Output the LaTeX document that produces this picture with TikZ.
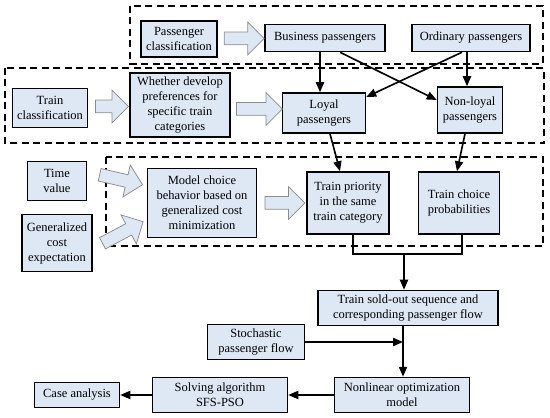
\documentclass[tikz,border=0pt]{standalone}
\usepackage{fontspec}
\setmainfont{Liberation Serif}
\usetikzlibrary{shapes.arrows, arrows.meta, calc}
\definecolor{boxfill}{RGB}{222,232,245}
\definecolor{fatedge}{RGB}{140,140,140}

\begin{document}
\begin{tikzpicture}[
    x=0.8pt, y=-0.8pt,
    box/.style={rectangle, draw, line width=1.2pt, fill=boxfill, align=center, inner sep=2pt, font=\rmfamily\fontsize{10}{12}\selectfont},
    arrow/.style={-{Triangle[length=8pt, width=6.5pt]}, line width=1.3pt},
    link/.style={line width=1.3pt},
    fat/.style={single arrow, draw=fatedge, fill=boxfill, line width=0.6pt, inner xsep=0pt, inner ysep=4.8pt, minimum height=#1, single arrow head extend=8pt, single arrow head indent=0pt},
    fat/.default=32pt,
    frame/.style={dash pattern=on 5.6pt off 3.6pt, line width=1.2pt}
  ]
    \useasboundingbox (0,0) rectangle (550,418);

    % dashed groups
    \draw[frame] (130,6) rectangle (543,64);
    \draw[frame] (5,68) rectangle (544,143);
    \draw[frame] (106,157) rectangle (543,246);

    % passenger side
    \node[box, minimum width=60.8pt, minimum height=28.8pt] (pcls) at (179,39) {Passenger\\classification};
    \node[box, minimum width=96pt, minimum height=21.6pt] (busi) at (325,38) {Business passengers};
    \node[box, minimum width=94.4pt, minimum height=21.6pt] (ordi) at (471,38) {Ordinary passengers};

    % train side
    \node[box, minimum width=60pt, minimum height=31.2pt] (tcls) at (50,108) {Train\\classification};
    \node[box, minimum width=80pt, minimum height=51.2pt] (pref) at (180,105) {Whether develop\\preferences for\\specific train\\categories};
    \node[box, minimum width=66.4pt, minimum height=32pt] (loyal) at (324,113) {Loyal\\passengers};
    \node[box, minimum width=52pt, minimum height=36.8pt] (nonl) at (470,110) {Non-loyal\\passengers};

    % choice behaviour
    \node[box, minimum width=47.2pt, minimum height=31.2pt] (tval) at (57,181) {Time\\value};
    \node[box, minimum width=56pt, minimum height=45.6pt] (gcost) at (57,243) {Generalized\\cost\\expectation};
    \node[box, minimum width=87.2pt, minimum height=55.2pt] (model) at (202,203) {Model choice\\behavior based on\\generalized cost\\minimization};
    \node[box, minimum width=65.6pt, minimum height=49.6pt] (prio) at (348,203) {Train priority\\in the same\\train category};
    \node[box, minimum width=64.8pt, minimum height=49.6pt] (prob) at (459,203) {Train choice\\probabilities};

    % optimisation
    \node[box, minimum width=144pt, minimum height=28pt] (sold) at (408,308) {Train sold-out sequence and\\corresponding passenger flow};
    \node[box, minimum width=77.6pt, minimum height=28pt] (stoch) at (256,342) {Stochastic\\passenger flow};
    \node[box, minimum width=108pt, minimum height=28pt] (nlopt) at (402,395) {Nonlinear optimization\\model};
    \node[box, minimum width=108pt, minimum height=28pt] (solve) at (220,395) {Solving algorithm\\SFS-PSO};
    \node[box, minimum width=68pt, minimum height=20pt] (case) at (77,395) {Case analysis};

    % block arrows
    \node[fat] (fa1) at ($(pcls.east)!0.5!(busi.west)$) {};
    \node[fat=26.4pt] (fa2) at ($(tcls.east)!0.5!(pref.west)$) {};
    \node[fat=36.8pt] (fa3) at ($(pref.east)!0.5!(loyal.west)$) {};
    \node[fat=35.2pt, rotate=-13] (fa4) at (118,179) {};
    \node[fat=36.8pt, rotate=28] (fa5) at (120,234) {};
    \node[fat] (fa6) at ($(model.east)!0.5!(prio.west)$) {};

    % links
    \draw[arrow] ([xshift=-4pt]busi.south) -- ([xshift=-4pt]busi.south |- loyal.north);
    \draw[arrow] ([xshift=12pt]busi.south) -- ([yshift=8pt]nonl.west);
    \draw[arrow] ([xshift=-7.2pt]ordi.south) -- ([yshift=12.8pt]loyal.east);
    \draw[arrow] ([xshift=-3.2pt]ordi.south) -- ([xshift=-3.2pt]ordi.south |- nonl.north);
    \draw[arrow] ([xshift=4.8pt]loyal.south) -- ([xshift=-6.4pt]prio.north);
    \draw[arrow] ([xshift=-4pt]nonl.south) -- ([xshift=-1.6pt]prob.north);

    \coordinate (join) at ([xshift=-3.2pt, yshift=28.8pt]sold.north);
    \draw[link] ([xshift=4pt]prio.south) |- (join) -| ([xshift=2.4pt]prob.south);
    \draw[arrow] (join) -- (join |- sold.north);

    \coordinate (flow) at ([xshift=-4pt]sold.south);
    \draw[arrow] (flow) -- (flow |- nlopt.north);
    \draw[arrow] (stoch.east) -- (stoch.east -| flow);
    \draw[arrow] (nlopt.west) -- (solve.east);
    \draw[arrow] (solve.west) -- (case.east);
  \end{tikzpicture}
\end{document}
